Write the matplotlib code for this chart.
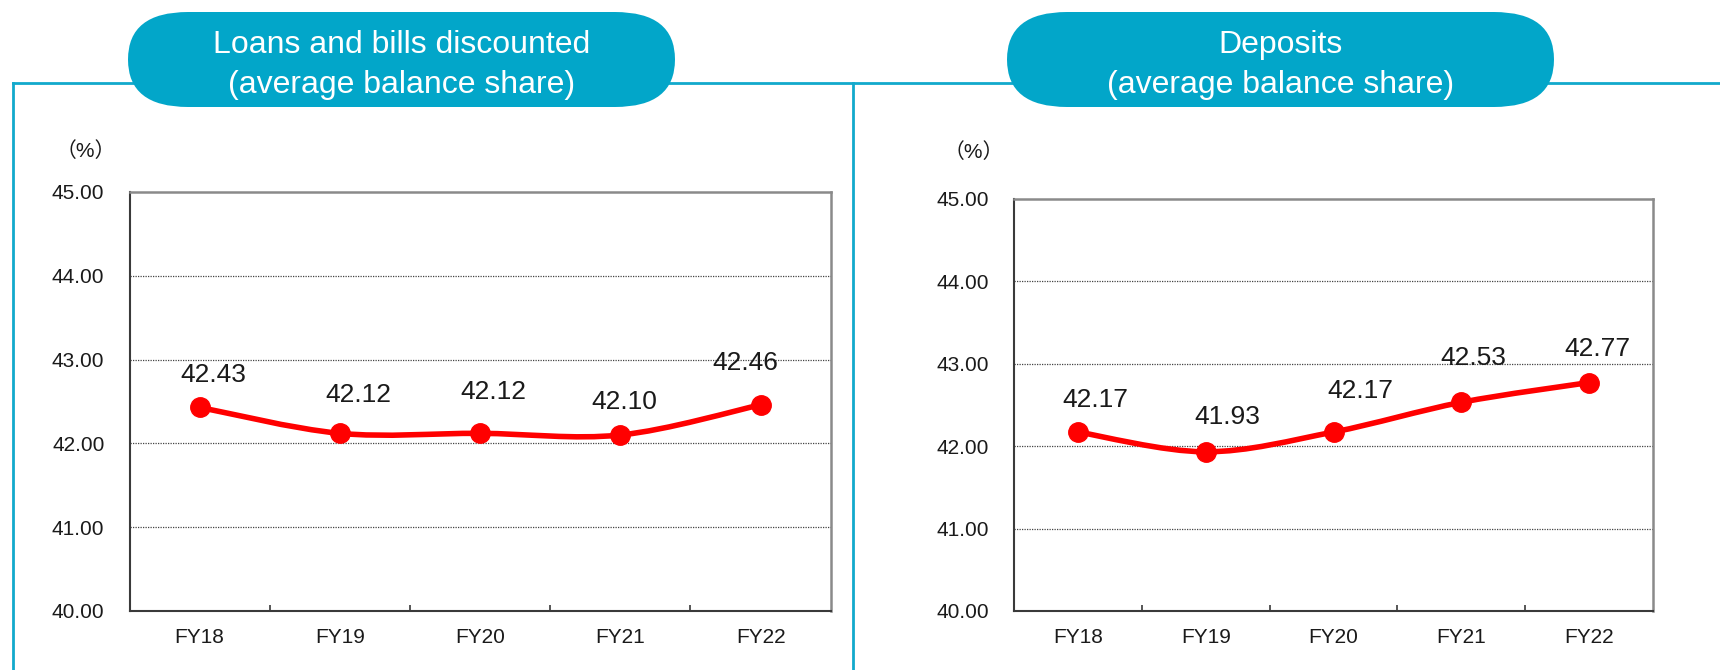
import matplotlib
matplotlib.use("Agg")
import matplotlib.pyplot as plt
from matplotlib.path import Path
from matplotlib.patches import PathPatch, FancyBboxPatch
from matplotlib.lines import Line2D

# ---------------- data ----------------
categories = ["FY18", "FY19", "FY20", "FY21", "FY22"]
loans_share = [42.43, 42.12, 42.12, 42.10, 42.46]
deposits_share = [42.17, 41.93, 42.17, 42.53, 42.77]
loans_title = "Loans and bills discounted\n(average balance share)"
deposits_title = "Deposits\n(average balance share)"
y_ticks = [40.0, 41.0, 42.0, 43.0, 44.0, 45.0]
unit_label = "（%）"

# ---------------- layout / style ----------------
W, H, DPI = 1720, 670, 100
CYAN_BOX = "#02A6C9"
CYAN_LINE = "#12A9CC"
RED = "#FF0000"
TXT = "#1a1a1a"
FONT = ["Liberation Sans", "Noto Sans CJK JP", "DejaVu Sans"]
# label offsets in pixels (dx, dy upward)
loans_lbl_off = [(14, 32), (19, 38), (13, 41), (4, 33), (-15, 42)]
deps_lbl_off = [(17, 32), (22, 35), (27, 41), (12, 44), (8, 34)]

plt.rcParams["font.family"] = FONT

fig = plt.figure(figsize=(W / DPI, H / DPI), dpi=DPI)
fig.patch.set_facecolor("white")

# background overlay in pixel coordinates
bg = fig.add_axes([0, 0, 1, 1], zorder=0)
bg.set_xlim(0, W)
bg.set_ylim(H, 0)
bg.axis("off")

# frame lines
lw_frame = 2.0
bg.add_line(Line2D([13, 13], [83, H], color=CYAN_LINE, lw=lw_frame))
bg.add_line(Line2D([13, W], [83, 83], color=CYAN_LINE, lw=lw_frame))
bg.add_line(Line2D([853, 853], [83, H], color=CYAN_LINE, lw=lw_frame))


def title_box(x0, x1, y0, y1, text):
    h = y1 - y0
    rx = 60.0
    asp = (h / 2) / rx
    box = FancyBboxPatch((x0, y0), x1 - x0, h,
                         boxstyle=f"round,pad=0,rounding_size={rx}",
                         mutation_aspect=asp,
                         facecolor=CYAN_BOX, edgecolor="none", zorder=3)
    bg.add_patch(box)
    lines = text.split("\n")
    ys = [45, 85]
    for ln, yy in zip(lines, ys):
        bg.text((x0 + x1) / 2, yy, ln, ha="center", va="center",
                color="white", fontsize=23, zorder=4)


title_box(128, 675, 12, 107, loans_title)
title_box(1007, 1554, 12, 107, deposits_title)

bg.text(86, 151, unit_label, ha="center", va="center", fontsize=15,
        color=TXT, family=FONT)
bg.text(974, 152, unit_label, ha="center", va="center", fontsize=15,
        color=TXT, family=FONT)


def smooth_path(xs, ys):
    pts = list(zip(xs, ys))
    n = len(pts)
    verts = [pts[0]]
    codes = [Path.MOVETO]
    for i in range(n - 1):
        p0 = pts[i - 1] if i > 0 else pts[i]
        p1 = pts[i]
        p2 = pts[i + 1]
        p3 = pts[i + 2] if i + 2 < n else pts[i + 1]
        c1 = (p1[0] + (p2[0] - p0[0]) / 6, p1[1] + (p2[1] - p0[1]) / 6)
        c2 = (p2[0] - (p3[0] - p1[0]) / 6, p2[1] - (p3[1] - p1[1]) / 6)
        verts += [c1, c2, p2]
        codes += [Path.CURVE4] * 3
    return Path(verts, codes)


def panel(rect, values, offsets):
    ax = fig.add_axes(rect, zorder=2)
    ax.set_facecolor("white")
    x = list(range(len(categories)))
    ax.set_xlim(-0.5, len(categories) - 0.5)
    ax.set_ylim(y_ticks[0], y_ticks[-1])
    # grid
    for yv in y_ticks[1:-1]:
        ax.axhline(yv, color="#444444", lw=0.9, ls=(0, (1, 1)), zorder=1)
    # spines
    for s in ("left", "bottom"):
        ax.spines[s].set_color("#3a3a3a")
        ax.spines[s].set_linewidth(1.5)
    for s in ("top", "right"):
        ax.spines[s].set_color("#8a8a8a")
        ax.spines[s].set_linewidth(1.8)
    ax.set_yticks(y_ticks)
    ax.set_yticklabels([f"{v:.2f}" for v in y_ticks], fontsize=15, color=TXT)
    ax.tick_params(axis="y", length=0, pad=18)
    # x: labels at centers, tick marks at boundaries
    ax.set_xticks(x)
    ax.set_xticklabels(categories, fontsize=15, color=TXT)
    ax.tick_params(axis="x", which="major", length=0, pad=12)
    ax.set_xticks([i + 0.5 for i in x[:-1]], minor=True)
    ax.tick_params(axis="x", which="minor", direction="in", length=4.5,
                   width=1.2, color="#3a3a3a")
    # smooth line
    ax.add_patch(PathPatch(smooth_path(x, values), facecolor="none",
                           edgecolor=RED, lw=4.0, zorder=3,
                           capstyle="round", joinstyle="round"))
    ax.plot(x, values, ls="none", marker="o", ms=14, color=RED, zorder=4)
    for xi, v, (dx, dy) in zip(x, values, offsets):
        ax.annotate(f"{v:.2f}", (xi, v), xytext=(dx, dy),
                    textcoords="offset pixels", ha="center", va="center",
                    fontsize=19, color=TXT, zorder=5)
    return ax


panel([129.5 / W, 1 - 611 / H, (830.7 - 129.5) / W, (611 - 192) / H],
      loans_share, loans_lbl_off)
panel([1014 / W, 1 - 611 / H, (1653 - 1014) / W, (611 - 198.6) / H],
      deposits_share, deps_lbl_off)

fig.savefig("out.png", dpi=DPI)
